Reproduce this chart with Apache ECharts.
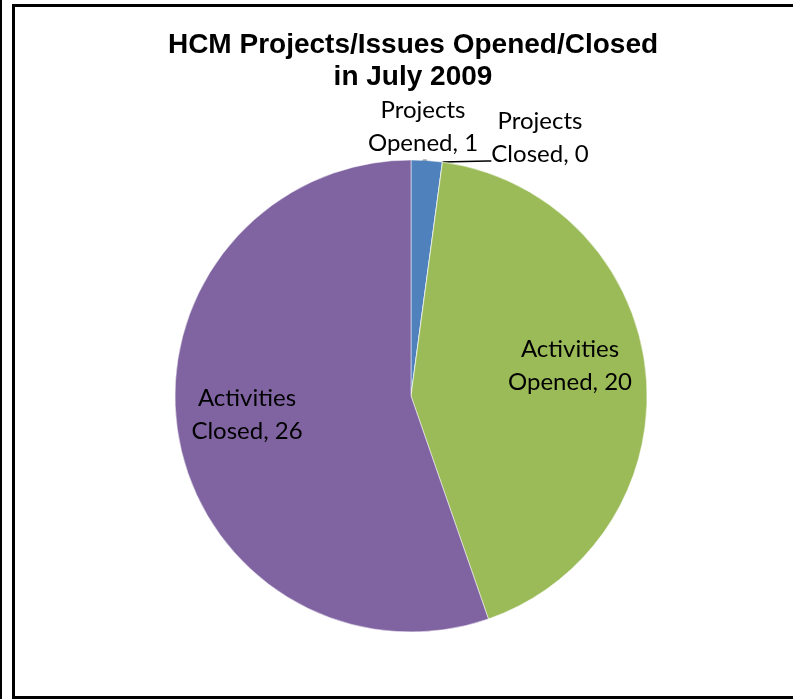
<!DOCTYPE html>
<html>
<head>
<meta charset="utf-8">
<script src="https://cdn.jsdelivr.net/npm/echarts@6/dist/echarts.min.js"></script>
<style>
    html, body { margin: 0; padding: 0; background: #fff; }
    .edge { position: absolute; left: 0; top: 0; width: 2px; height: 699px; background: #000; }
    .frame { position: absolute; left: 12px; top: 4px; width: 800px; height: 689px; border: 3px solid #000; }
    #chart { position: absolute; left: 0; top: 0; width: 793px; height: 699px; }
</style>
</head>
<body>
<div class="edge"></div>
<div class="frame"></div>
<div id="chart"></div>
<script>
// data
const categories = ['Projects Opened', 'Projects Closed', 'Activities Opened', 'Activities Closed'];
const values = [1, 0, 20, 26];
const colors = ['#4F81BD', '#C0504D', '#9BBB59', '#8064A2'];

// pie geometry
const cx = 411, cy = 396, R = 236;
// label centres, offset from pie centre
const labelOffsets = [[12, -269], [129, -235], [159, -30], [-164, 19]];

const labelText = p => p.name.replace(' ', '\n') + ', ' + p.value;

const chart = echarts.init(document.getElementById('chart'));

const option = {
    animation: false,
    title: {
        text: 'HCM Projects/Issues Opened/Closed\nin July 2009',
        left: 408,
        top: 24,
        textAlign: 'center',
        textStyle: {
            fontFamily: 'Liberation Sans',
            fontWeight: 'bold',
            fontSize: 28,
            lineHeight: 32,
            color: '#000'
        }
    },
    series: [{
        type: 'pie',
        center: [cx, cy],
        radius: R,
        startAngle: 90,
        clockwise: true,
        avoidLabelOverlap: false,
        stillShowZeroSum: true,
        itemStyle: { borderColor: '#fff', borderWidth: 0.5 },
        label: {
            show: true,
            position: 'inside',
            formatter: labelText,
            fontFamily: 'Lato',
            fontSize: 24,
            lineHeight: 33,
            color: '#000'
        },
        labelLine: { show: false },
        labelLayout: p => {
            const o = labelOffsets[p.dataIndex];
            return { x: cx + o[0], y: cy + o[1], align: 'center', verticalAlign: 'middle' };
        },
        data: categories.map((name, i) => {
            const d = { name: name, value: values[i], itemStyle: { color: colors[i] } };
            if (i < 2) {
                d.label = { position: 'outside' };
                d.labelLine = { show: true, length: 2, length2: 4, smooth: false, lineStyle: { color: '#000', width: 1.5 } };
            }
            if (i === 1) {
                // empty last line so the leader meets the label at its bottom line
                d.label.formatter = p => labelText(p) + '\n{gap| }';
                d.label.rich = { gap: { lineHeight: 47, fontSize: 10 } };
            }
            return d;
        })
    }]
};

chart.setOption(option);
window.addEventListener('resize', () => {
    chart.resize();
});
</script>
</body>
</html>
